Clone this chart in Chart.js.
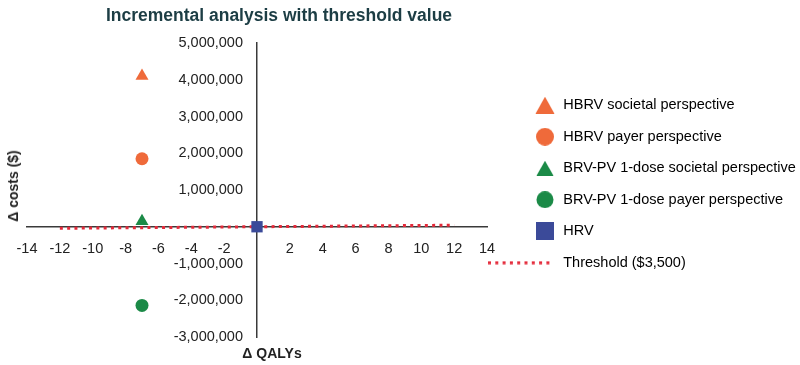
<!DOCTYPE html>
<html>
<head>
<meta charset="utf-8">
<script src="https://cdn.jsdelivr.net/npm/chart.js@4.4.1/dist/chart.umd.min.js"></script>
<style>
  html, body { margin: 0; padding: 0; background: #fff; }
  #wrap { position: relative; width: 800px; height: 365px; font-family: "Liberation Sans", Arial, sans-serif; }
  #title { position: absolute; left: 0; width: 558px; top: 5px; text-align: center; font-weight: bold; font-size: 17.5px; color: #1c3d44; }
  .axis-title { position: absolute; font-weight: bold; font-size: 14px; color: #222; white-space: nowrap; transform: translate(-50%, -50%); }
  #ytitle { left: 13px; top: 186px; transform: translate(-50%, -50%) rotate(-90deg); }
  #xtitle { left: 272px; top: 353px; }
  canvas { position: absolute; left: 0; top: 0; }
</style>
</head>
<body>
<div id="wrap">
  <canvas id="chart" width="800" height="365"></canvas>
  <div id="title">Incremental analysis with threshold value</div>
  <div class="axis-title" id="ytitle">Δ costs ($)</div>
  <div class="axis-title" id="xtitle">Δ QALYs</div>
</div>
<script>
// Data
const seriesNames = [
  'HBRV societal perspective',
  'HBRV payer perspective',
  'BRV-PV 1-dose societal perspective',
  'BRV-PV 1-dose payer perspective',
  'HRV'
];
const deltaQalys = [-7, -7, -7, -7, 0];
const deltaCosts = [4100000, 1850000, 150000, -2140000, 0];

const thresholdName = 'Threshold ($3,500)';
const thresholdQalys = [-12, 12];
const thresholdCosts = [-42000, 42000];

const xTicks = [-14, -12, -10, -8, -6, -4, -2, 0, 2, 4, 6, 8, 10, 12, 14];
const yTicks = [-3000000, -2000000, -1000000, 0, 1000000, 2000000, 3000000, 4000000, 5000000];

// Styles
const ORANGE = '#ef6a3a';
const GREEN = '#1b8a47';
const BLUE = '#3b4a99';
const RED = '#e42a3a';
const seriesColors = [ORANGE, ORANGE, GREEN, GREEN, BLUE];
const seriesShapes = ['triangle', 'circle', 'triangle', 'circle', 'rect'];
const seriesRadius = [7.5, 6.5, 7.5, 6.5, 8];

// Legend markers drawn on small canvases (marker sits 15px right of the image centre)
const MW = 60, MX = 45;
function marker(w, h, draw) {
  const c = document.createElement('canvas');
  c.width = w; c.height = h;
  draw(c.getContext('2d'));
  return c;
}
function tri(color, w, h) {
  return marker(MW, h, (ctx) => {
    ctx.fillStyle = color;
    ctx.beginPath();
    ctx.moveTo(MX, 0); ctx.lineTo(MX + w / 2, h); ctx.lineTo(MX - w / 2, h);
    ctx.closePath(); ctx.fill();
  });
}
function dot(color, d) {
  return marker(MW, d, (ctx) => {
    ctx.fillStyle = color;
    ctx.beginPath(); ctx.arc(MX, d / 2, d / 2, 0, Math.PI * 2); ctx.fill();
  });
}
function box(color, w, h) {
  return marker(MW, h, (ctx) => { ctx.fillStyle = color; ctx.fillRect(MX - w / 2, 0, w, h); });
}
const legendMarkers = [
  tri(ORANGE, 19, 17),
  dot(ORANGE, 18),
  tri(GREEN, 17, 15),
  dot(GREEN, 17),
  box(BLUE, 18, 18),
  marker(84, 4, (ctx) => {
    ctx.strokeStyle = RED; ctx.lineWidth = 3; ctx.setLineDash([3, 4.3]);
    ctx.beginPath(); ctx.moveTo(0, 2); ctx.lineTo(64, 2); ctx.stroke();
  })
];

const datasets = seriesNames.map((name, i) => ({
  label: name,
  data: [{ x: deltaQalys[i], y: deltaCosts[i] }],
  pointStyle: seriesShapes[i],
  pointRadius: seriesRadius[i],
  pointBackgroundColor: seriesColors[i],
  pointBorderColor: seriesColors[i],
  pointBorderWidth: 0,
  showLine: false
}));

datasets.push({
  label: thresholdName,
  type: 'line',
  data: thresholdQalys.map((x, i) => ({ x: x, y: thresholdCosts[i] })),
  borderColor: RED,
  borderWidth: 3,
  borderDash: [3, 4.3],
  pointRadius: 0,
  fill: false
});

const tickFont = { family: '"Liberation Sans", Arial, sans-serif', size: 14.5 };
const yFormat = v => (v === 0 ? '' : v.toLocaleString('en-US'));

new Chart(document.getElementById('chart'), {
  type: 'scatter',
  data: { datasets: datasets },
  options: {
    responsive: false,
    animation: false,
    layout: { padding: { left: 27, top: 31, bottom: 28, right: 0 } },
    scales: {
      x: {
        type: 'linear',
        position: { y: 0 },
        min: -14, max: 14,
        afterBuildTicks: s => { s.ticks = xTicks.map(v => ({ value: v })); },
        grid: { display: false },
        border: { display: true, color: '#3a3a3a', width: 1.5 },
        ticks: {
          padding: 6, color: '#222', font: tickFont, maxRotation: 0, autoSkip: false,
          callback: v => (v === 0 ? '' : String(v))
        }
      },
      // empty strip above the plot (lets the legend column sit a bit higher)
      topStrip: {
        type: 'linear', axis: 'x', position: 'top', display: true,
        ticks: { display: false }, grid: { display: false, drawTicks: false },
        border: { display: false },
        afterFit: s => { s.height = 12; }
      },
      y: {
        type: 'linear',
        position: { x: 0 },
        min: -3000000, max: 5000000,
        afterBuildTicks: s => { s.ticks = yTicks.map(v => ({ value: v })); },
        grid: { display: false },
        border: { display: true, color: '#3a3a3a', width: 1.5 },
        ticks: { display: false }
      },
      // y tick labels sit a little left of the crossing axis
      yLabels: {
        type: 'linear', axis: 'y',
        position: { x: -0.852 },
        min: -3000000, max: 5000000,
        afterBuildTicks: s => { s.ticks = yTicks.map(v => ({ value: v })); },
        grid: { display: false },
        border: { display: false },
        ticks: { color: '#222', font: tickFont, autoSkip: false, callback: yFormat }
      }
    },
    plugins: {
      tooltip: { enabled: false },
      title: { display: false },
      legend: {
        display: true,
        position: 'right',
        align: 'center',
        maxWidth: 313,
        labels: {
          usePointStyle: true,
          pointStyleWidth: 52,
          padding: 17,
          color: '#333',
          font: { family: '"Liberation Sans", Arial, sans-serif', size: 14.5 },
          generateLabels: chart => chart.data.datasets.map((ds, i) => ({
            text: ds.label,
            pointStyle: legendMarkers[i],
            fillStyle: 'transparent',
            strokeStyle: 'transparent',
            lineWidth: 0,
            hidden: false,
            datasetIndex: i
          }))
        }
      }
    }
  }
});
</script>
</body>
</html>
